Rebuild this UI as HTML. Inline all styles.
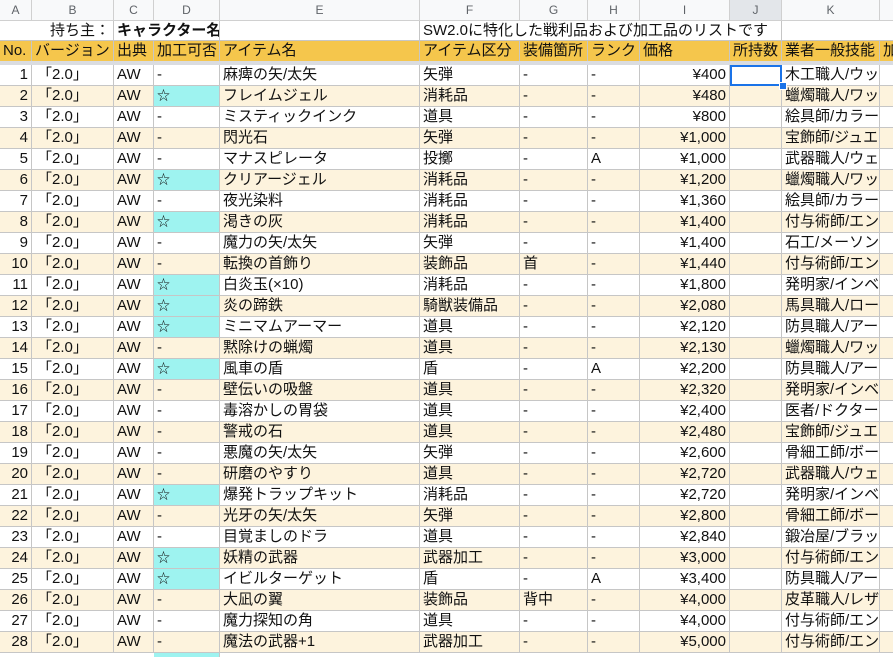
<!DOCTYPE html>
<html><head><meta charset="utf-8">
<style>
body{margin:0;width:893px;height:657px;overflow:hidden;background:#fff;font-family:"Liberation Sans","Noto Sans CJK JP",sans-serif;}
#sheet{position:relative;width:893px;height:657px;overflow:hidden;}
.c{position:absolute;box-sizing:border-box;border-right:1px solid #c6c6c6;border-bottom:1px solid #c6c6c6;font-size:15px;line-height:20px;padding:0 3px;white-space:nowrap;overflow:hidden;color:#111;}
.colh{background:#f8f9fa;color:#5f6368;font-size:12px;text-align:center;border-color:#d0d0d0;}
.hdr{background:#f5c64c;}
.r{text-align:right;}
.alt{background:#fdf3dd;}
.cy{background:#9ef3f0;}
</style></head><body>
<div id="sheet"></div>
<script>
const colX=[0,32,114,154,220,420,520,588,640,730,782,880,960];
const colLetters=['A','B','C','D','E','F','G','H','I','J','K','L'];
const headers=['No.','バージョン','出典','加工可否','アイテム名','アイテム区分','装備箇所','ランク','価格','所持数','業者一般技能','加'];
const names=['麻痺の矢/太矢','フレイムジェル','ミスティックインク','閃光石','マナスピレータ','クリアージェル','夜光染料','渇きの灰','魔力の矢/太矢','転換の首飾り','白炎玉(×10)','炎の蹄鉄','ミニマムアーマー','黙除けの蝋燭','風車の盾','壁伝いの吸盤','毒溶かしの胃袋','警戒の石','悪魔の矢/太矢','研磨のやすり','爆発トラップキット','光牙の矢/太矢','目覚ましのドラ','妖精の武器','イビルターゲット','大凪の翼','魔力探知の角','魔法の武器+1'];
const craft=[0,1,0,0,0,1,0,1,0,0,1,1,1,0,1,0,0,0,0,0,1,0,0,1,1,0,0,0];
const kinds=['矢弾','消耗品','道具','矢弾','投擲','消耗品','消耗品','消耗品','矢弾','装飾品','消耗品','騎獣装備品','道具','道具','盾','道具','道具','道具','矢弾','道具','消耗品','矢弾','道具','武器加工','盾','装飾品','道具','武器加工'];
const slots=['-','-','-','-','-','-','-','-','-','首','-','-','-','-','-','-','-','-','-','-','-','-','-','-','-','背中','-','-'];
const ranks=['-','-','-','-','A','-','-','-','-','-','-','-','-','-','A','-','-','-','-','-','-','-','-','-','A','-','-','-'];
const prices=[400,480,800,1000,1000,1200,1360,1400,1400,1440,1800,2080,2120,2130,2200,2320,2400,2480,2600,2720,2720,2800,2840,3000,3400,4000,4000,5000];
const trades=['木工職人/ウッ','蠟燭職人/ワッ','絵具師/カラー','宝飾師/ジュエ','武器職人/ウェ','蠟燭職人/ワッ','絵具師/カラー','付与術師/エン','石工/メーソン','付与術師/エン','発明家/インベ','馬具職人/ロー','防具職人/アー','蠟燭職人/ワッ','防具職人/アー','発明家/インベ','医者/ドクター','宝飾師/ジュエ','骨細工師/ボー','武器職人/ウェ','発明家/インベ','骨細工師/ボー','鍛冶屋/ブラッ','付与術師/エン','防具職人/アー','皮革職人/レザ','付与術師/エン','付与術師/エン'];
const S=document.getElementById('sheet');
function cell(ci,y,h,txt,cls){
  const d=document.createElement('div');
  d.className='c '+(cls||'');
  d.style.left=colX[ci]+'px';d.style.top=y+'px';
  d.style.width=(colX[ci+1]-colX[ci])+'px';d.style.height=h+'px';
  d.style.lineHeight=(h-1)+'px';
  d.textContent=txt;
  S.appendChild(d);return d;
}
colLetters.forEach((l,i)=>{const d=cell(i,0,21,l,'colh');


if(i==9)d.style.background='#e3e6ea';});
for(let i=0;i<12;i++){const d=cell(i,21,20,'','');d.style.borderRight=(i==1||i==3||i==4||i==9)?'1px solid #c6c6c6':'none';}
let t=cell(0,21,20,'持ち主：','r');t.style.width='114px';t.style.background='#fff';


t=cell(2,21,20,'キャラクター名','');t.style.width='106px';t.style.fontWeight='bold';t.style.background='#fff';


t=cell(5,21,20,'SW2.0に特化した戦利品および加工品のリストです','');t.style.width='362px';t.style.background='#fff';


headers.forEach((h,i)=>{const d=cell(i,41,21,h,'hdr');

});
const g=document.createElement('div');g.style.cssText='position:absolute;left:0;top:61px;width:893px;height:4px;background:#dadce0';


S.appendChild(g);
for(let r=0;r<29;r++){
  const y=65+r*21;const alt=r%2==1?'alt':'';
  if(r==28){cell(3,y,21,'','cy');continue;}
  const vals=[String(r+1),'「2.0」','AW',craft[r]?'☆':'-',names[r],kinds[r],slots[r],ranks[r],'¥'+prices[r].toLocaleString('en-US'),'',trades[r],''];
  vals.forEach((v,i)=>{
    let cls=alt;if(i==0||i==8)cls+=' r';if(i==3&&craft[r])cls+=' cy';
    const d=cell(i,y,21,v,cls);
    if(i==3&&craft[r])d.style.fontSize='13px';
    if(i==1)d.style.paddingLeft='5px';
    
    
    if(i==9&&r==0){d.style.outline='2px solid #1a73e8';d.style.outlineOffset='-2px';}
  });
}
const h=document.createElement('div');h.style.cssText='position:absolute;left:779px;top:82px;width:6px;height:6px;background:#1a73e8;border:1px solid #fff';


S.appendChild(h);
</script>
</body></html>
